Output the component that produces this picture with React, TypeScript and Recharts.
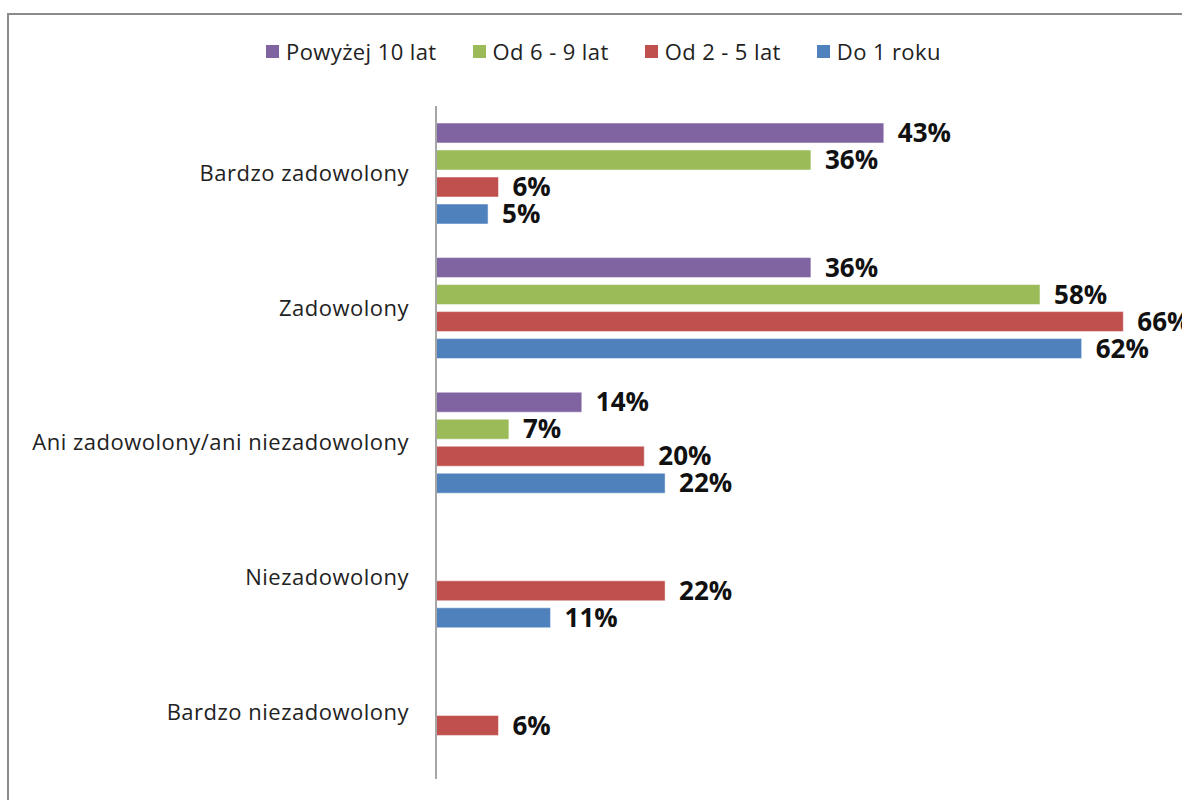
import React from 'react';
import { BarChart, Bar, XAxis, YAxis, LabelList } from 'recharts';

// Odpowiedzi (kategorie osi Y)
const categories = [
  'Bardzo zadowolony',
  'Zadowolony',
  'Ani zadowolony/ani niezadowolony',
  'Niezadowolony',
  'Bardzo niezadowolony',
];

// Staż (serie), w procentach; null = brak słupka
const powyzej10 = [43, 36, 14, null, null];
const od6do9 = [36, 58, 7, null, null];
const od2do5 = [6, 66, 20, 22, 6];
const do1roku = [5, 62, 22, 11, null];

const seriesNames = ['Powyżej 10 lat', 'Od 6 - 9 lat', 'Od 2 - 5 lat', 'Do 1 roku'];
const seriesColors = ['#8064A2', '#9BBB59', '#C0504D', '#4F81BD'];
const seriesKeys = ['p10', 'p69', 'p25', 'p1'];

const data = categories.map((name, i) => ({
  name,
  p10: powyzej10[i],
  p69: od6do9[i],
  p25: od2do5[i],
  p1: do1roku[i],
}));

const FONT = '"Open Sans", Lato, sans-serif';

const fmt = (v: any) => (v === null || v === undefined ? '' : `${v}%`);

const ChartLegend = () => (
  <div
    style={{
      position: 'absolute',
      left: 266,
      top: 36,
      display: 'flex',
      alignItems: 'center',
      fontFamily: FONT,
      fontSize: 22,
      letterSpacing: 0.4,
      color: '#222',
      whiteSpace: 'nowrap',
    }}
  >
    {seriesNames.map((n, i) => (
      <div key={n} style={{ display: 'flex', alignItems: 'center', marginRight: 36 }}>
        <span style={{ display: 'inline-block', width: 13, height: 13, background: seriesColors[i], marginRight: 7 }} />
        <span>{n}</span>
      </div>
    ))}
  </div>
);

export default function App() {
  return (
    <div style={{ position: 'absolute', left: 0, top: 0, width: 1182, height: 800, overflow: 'hidden', background: '#fff' }}>
      <div
        style={{
          position: 'absolute',
          left: 7,
          top: 13,
          width: 1250,
          height: 850,
          border: '2px solid #8c8c8c',
          boxSizing: 'border-box',
        }}
      />
      <ChartLegend />
      <div style={{ position: 'absolute', left: 0, top: 0 }}>
        <BarChart
          width={1182}
          height={800}
          data={data}
          layout="vertical"
          margin={{ top: 106, right: 17, bottom: 21, left: 0 }}
          barSize={20}
          barGap={7}
        >
          <XAxis type="number" domain={[0, 70]} hide />
          <YAxis
            type="category"
            dataKey="name"
            width={436}
            tickLine={false}
            tickSize={0}
            tickMargin={27}
            axisLine={{ stroke: '#a6a6a6', strokeWidth: 2 }}
            tick={{ fontFamily: FONT, fontSize: 22, letterSpacing: 0.5, fill: '#222' }}
          />
          {seriesKeys.map((k, i) => (
            <Bar
              key={k}
              dataKey={k}
              name={seriesNames[i]}
              fill={seriesColors[i]}
              stroke="#ffffff"
              strokeOpacity={0.5}
              isAnimationActive={false}
            >
              <LabelList
                dataKey={k}
                position="right"
                offset={14}
                formatter={fmt}
                style={{ fontFamily: FONT, fontSize: 26, fontWeight: 'bold', fill: '#111' }}
              />
            </Bar>
          ))}
        </BarChart>
      </div>
    </div>
  );
}
